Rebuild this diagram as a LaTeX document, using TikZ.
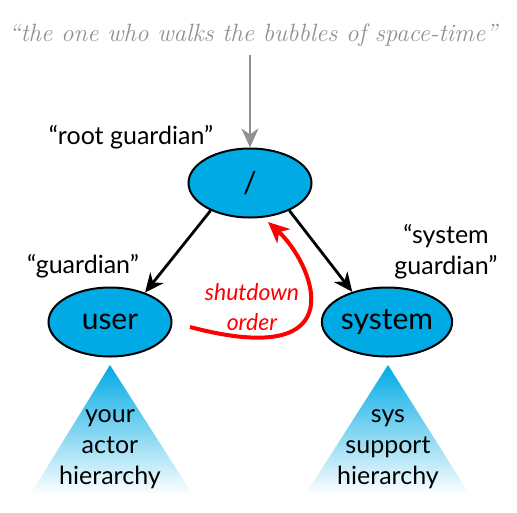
\documentclass[tikz,border=0pt]{standalone}
\usepackage{fontspec}
\setmainfont{Lato}
\usetikzlibrary{shapes.geometric,arrows.meta}
\definecolor{akkablue}{RGB}{0,170,228}
\definecolor{quotegray}{RGB}{145,145,145}
\begin{document}
\begin{tikzpicture}[x=1pt,y=-1pt,
  actor/.style={ellipse,draw=black,line width=2pt,fill=akkablue,minimum width=123pt,minimum height=69pt,inner sep=0pt,font=\fontsize{30}{32}\selectfont},
  lbl/.style={font=\fontsize{25}{31}\selectfont,align=center},
  tri/.style={top color=akkablue,bottom color=white},
  tritext/.style={font=\fontsize{25}{31}\selectfont,align=center},
  link/.style={line width=2.8pt,-{Stealth[length=19pt,width=17pt,inset=6pt]}},
  redlink/.style={red,line width=4pt,-{Stealth[length=21pt,width=19pt,inset=6pt]}}]
\useasboundingbox (0,0) rectangle (517,512);
% top quote
\node[text=quotegray,font=\fontsize{25}{30}\selectfont] (quote) at (253,35) {\fontspec{Latin Modern Roman}\itshape “the one who walks the bubbles of space-time”};
% triangles
\shade[tri] (110,365) -- (30,495) -- (193,495) -- cycle;
\shade[tri] (388,365) -- (305,495) -- (470,495) -- cycle;
\node[tritext] (yourtxt) at (110,449) {your\\actor\\hierarchy};
\node[tritext] (systxt) at (388,449) {sys\\support\\hierarchy};
% actors
\node[actor] (root) at (250,183) {/};
\node[actor] (user) at (110,322) {user};
\node[actor] (system) at (387,322) {system};
% labels
\node[lbl] (rootlbl) at (131,137) {“root guardian”};
\node[lbl] (userlbl) at (83,266) {“guardian”};
\node[lbl] (syslbl) at (446,252) {“system\\guardian”};
% arrows
\coordinate (qend) at (250,55);
\draw[quotegray,line width=2.8pt,-{Stealth[length=19pt,width=17pt,inset=6pt]}] (qend) -- (root.north);
\draw[link] (root.215) -- (user.40);
\draw[link] (root.325) -- (system.139);
\coordinate (redstart) at (190,327);
\coordinate (redend) at (268,222);
\draw[redlink] (redstart) .. controls (360,372) and (312,262) .. (redend);
\node[text=red,font=\fontsize{23}{30}\selectfont\itshape,align=center] (shut) at (252,307) {shutdown\\order};
\end{tikzpicture}
\end{document}
